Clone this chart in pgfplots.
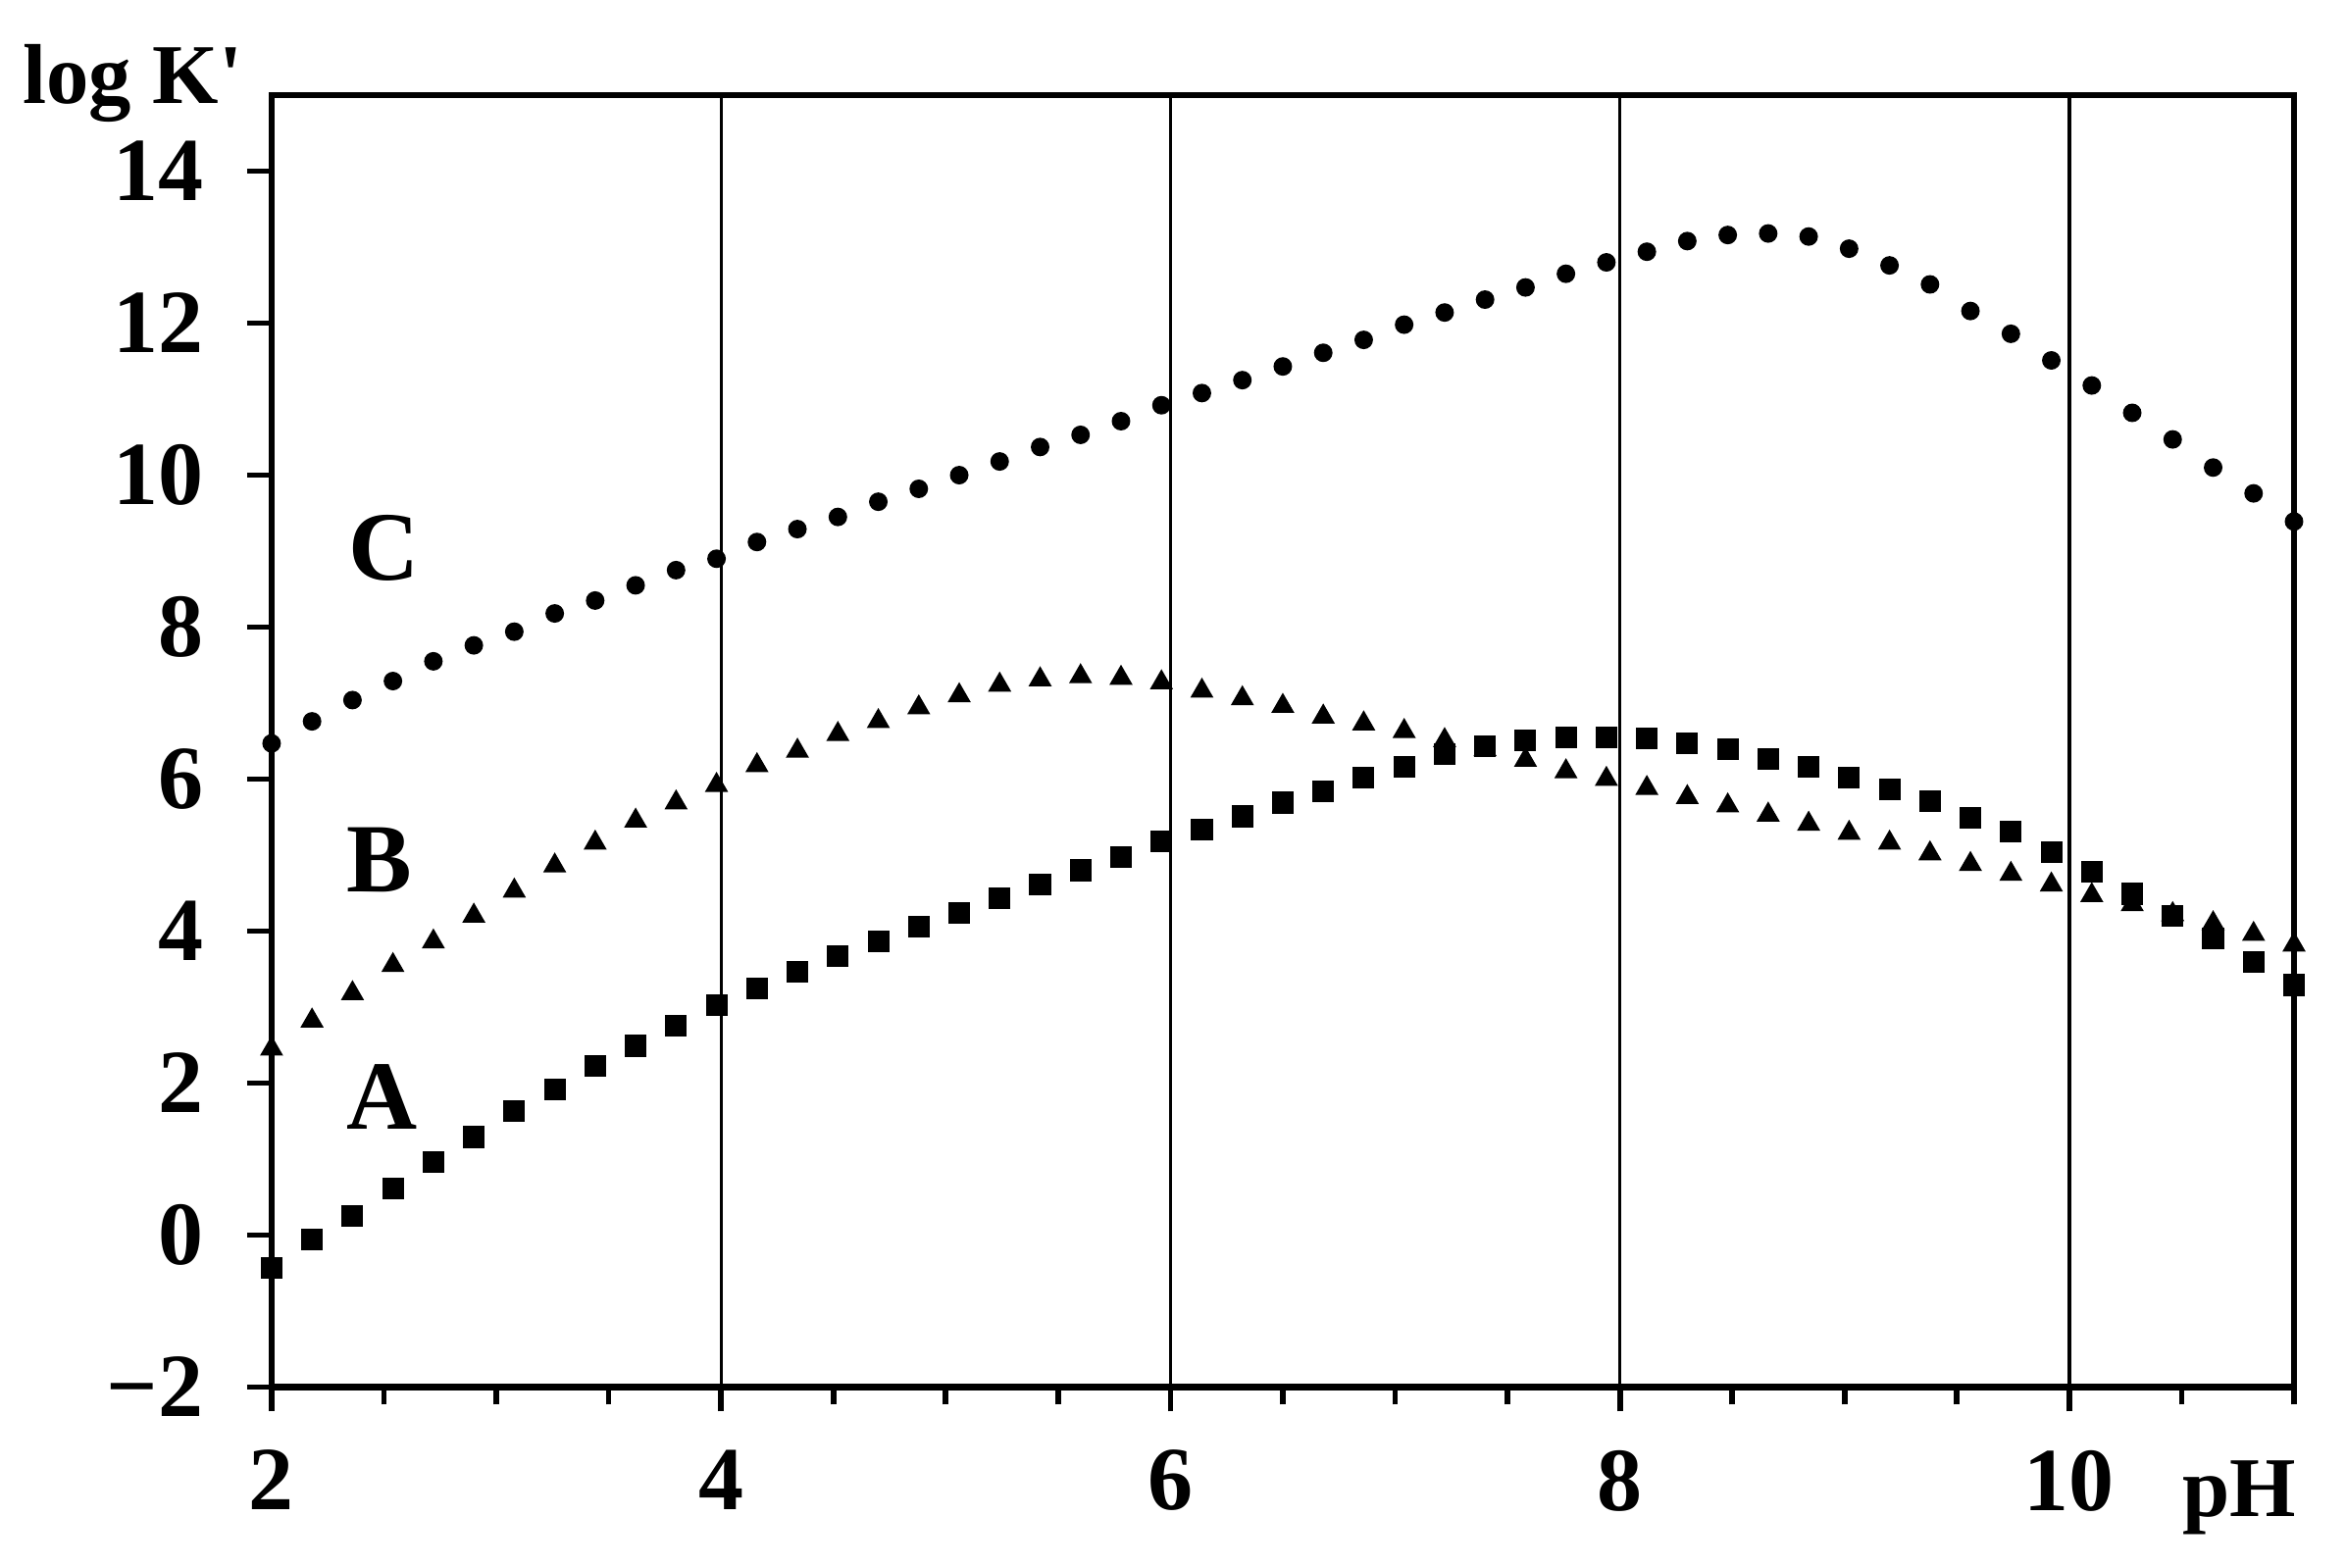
\documentclass[border=0pt]{standalone}
\usepackage{fontspec}
\setmainfont{Liberation Serif}
\usepackage{pgfplots}
\pgfplotsset{compat=1.18}
\usepackage{pgfplotstable}

% log K' against pH, curves A (squares), B (triangles), C (circles)
\pgfplotstableread{
pH    A      B      C
2.00  -0.43  2.45   6.47
2.18  -0.06  2.82   6.76
2.36  0.25   3.18   7.04
2.54  0.61   3.55   7.29
2.72  0.96   3.86   7.55
2.90  1.29   4.20   7.76
3.08  1.63   4.53   7.94
3.26  1.92   4.86   8.18
3.44  2.22   5.16   8.35
3.62  2.49   5.45   8.55
3.80  2.76   5.69   8.75
3.98  3.02   5.92   8.90
4.16  3.25   6.18   9.12
4.34  3.47   6.37   9.29
4.52  3.67   6.59   9.45
4.70  3.86   6.76   9.65
4.88  4.06   6.94   9.82
5.06  4.24   7.10   10.00
5.24  4.43   7.24   10.18
5.42  4.61   7.31   10.37
5.60  4.80   7.35   10.53
5.78  4.98   7.33   10.71
5.96  5.18   7.27   10.92
6.14  5.33   7.16   11.08
6.32  5.51   7.06   11.25
6.50  5.69   6.96   11.43
6.68  5.84   6.82   11.61
6.86  6.02   6.73   11.78
7.04  6.16   6.63   11.98
7.22  6.33   6.51   12.14
7.40  6.43   6.39   12.31
7.58  6.51   6.25   12.47
7.76  6.55   6.10   12.65
7.94  6.55   6.00   12.80
8.12  6.53   5.88   12.94
8.30  6.47   5.76   13.08
8.48  6.39   5.65   13.16
8.66  6.27   5.53   13.18
8.84  6.16   5.41   13.14
9.02  6.02   5.29   12.98
9.20  5.86   5.16   12.76
9.38  5.71   5.02   12.51
9.56  5.49   4.88   12.16
9.74  5.31   4.75   11.86
9.92  5.04   4.61   11.51
10.10 4.78   4.47   11.18
10.28 4.49   4.35   10.82
10.46 4.20   4.22   10.47
10.64 3.90   4.10   10.10
10.82 3.59   3.96   9.76
11.00 3.29   3.82   9.39
}\logk

\begin{document}
\begin{tikzpicture}
\begin{axis}[
  scale only axis,
  width=13.79cm, height=8.81cm,
  xmin=2, xmax=11, ymin=-2, ymax=15,
  clip=false,
  axis line style={line width=1.3pt},
  tick pos=left,
  tick align=outside,
  major tick length=4.75pt,
  minor tick length=3.4pt,
  every tick/.style={black, line width=1.1pt},
  xtick={2,4,6,8,10},
  xticklabels={2,4,6,8,10},
  minor xtick={2.5,3,3.5,4.5,5,5.5,6.5,7,7.5,8.5,9,9.5,10.5,11},
  ytick={-2,0,2,4,6,8,10,12,14},
  yticklabels={−2,0,2,4,6,8,10,12,14},
  xmajorgrids,
  major grid style={black, line width=0.63pt},
  every tick label/.append style={font=\fontsize{17.5}{20}\selectfont\bfseries},
  xticklabel shift=4pt,
  yticklabel shift=5pt,
]
  \addplot[only marks, mark=square*, mark size=1.9pt, black] table[x=pH, y=A] {\logk};
  \addplot[only marks, mark=triangle*, mark size=2.2pt, black] table[x=pH, y=B] {\logk};
  \addplot[only marks, mark=*, mark size=1.6pt, black] table[x=pH, y=C] {\logk};

  \node[font=\fontsize{19}{22}\selectfont\bfseries] at (axis cs:2.50,9.04) {C};
  \node[font=\fontsize{19}{22}\selectfont\bfseries] at (axis cs:2.48,4.93) {B};
  \node[font=\fontsize{19}{22}\selectfont\bfseries] at (axis cs:2.49,1.82) {A};

  \node[anchor=base west, inner sep=0pt, font=\fontsize{16.5}{20}\selectfont\bfseries]
    at (rel axis cs:-0.1235,0.9939) {log K\textquotesingle};
  \node[anchor=base, inner sep=0pt, font=\fontsize{16.5}{20}\selectfont\bfseries]
    at (rel axis cs:0.973,-0.1000) {pH};

  % page size as in the reference
  \path (rel axis cs:-0.1343,-0.1397) rectangle (rel axis cs:1.0257,1.0737);
\end{axis}
\end{tikzpicture}
\end{document}
